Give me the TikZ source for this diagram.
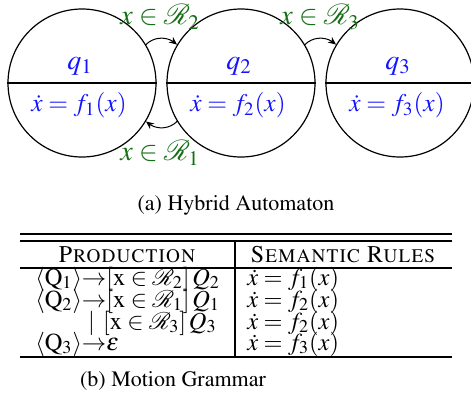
\documentclass[tikz,border=0pt]{standalone}
\usepackage[T1]{fontenc}
\usepackage{mathptmx}
\usepackage{mathrsfs}
\usetikzlibrary{arrows.meta,bending}
\definecolor{lblblue}{RGB}{20,20,255}
\definecolor{lblgreen}{RGB}{20,110,20}
\begin{document}
\begin{tikzpicture}[x=0.5pt,y=-0.5pt,
  state/.style={circle,draw,line width=0.6pt,minimum size=74pt,inner sep=0pt},
  statelbl/.style={text=lblblue,font=\fontsize{14}{16}\selectfont,inner sep=0pt},
  flowlbl/.style={text=lblblue,font=\fontsize{12.7}{15}\selectfont,inner sep=0pt},
  guard/.style={text=lblgreen,font=\fontsize{14}{16}\selectfont,inner sep=0pt},
  trans/.style={-{Stealth[length=4pt,width=3.5pt]},line width=0.5pt},
  rule/.style={line width=0.6pt},
  cell/.style={font=\fontsize{12.2}{14}\selectfont,inner sep=0pt,text height=7.5pt,text depth=2.2pt},
  head/.style={font=\fontsize{12}{14}\selectfont,inner sep=0pt},
  captext/.style={font=\fontsize{11}{13}\selectfont,inner sep=0pt}]
\useasboundingbox (0,0) rectangle (471,403);
% states
\node[state] (c1) at (82,83) {};
\node[state] (c2) at (241,83) {};
\node[state] (c3) at (400,83) {};
\foreach \i in {1,2,3}{
  \draw[line width=0.6pt] (c\i.west) -- (c\i.east);
}
\node[statelbl] (q1) at (80,66) {$q_1$};
\node[statelbl] (q2) at (239,66) {$q_2$};
\node[statelbl] (q3) at (398,66) {$q_3$};
\node[flowlbl] (f1) at (79,105) {$\dot{x}=f_1(x)$};
\node[flowlbl] (f2) at (238,105) {$\dot{x}=f_2(x)$};
\node[flowlbl] (f3) at (397,105) {$\dot{x}=f_3(x)$};
% transitions
\draw[trans] (c1.31) to[bend left=45] (c2.149);
\draw[trans] (c2.31) to[bend left=45] (c3.149);
\draw[trans] (c2.211) to[bend left=45] (c1.329);
\node[guard] (g2) at (160,17) {$x\in\mathscr{R}_2$};
\node[guard] (g3) at (320,17) {$x\in\mathscr{R}_3$};
\node[guard] (g1) at (160,153) {$x\in\mathscr{R}_1$};
\node[captext] (capa) at (236,205) {(a)\ Hybrid Automaton};
% table
\coordinate (tl1) at (20,234); \coordinate (tr1) at (452,234);
\coordinate (tl2) at (20,241); \coordinate (tr2) at (452,241);
\coordinate (hl) at (20,268); \coordinate (hr) at (452,268);
\coordinate (bl) at (20,357); \coordinate (br) at (452,357);
\coordinate (vt) at (235,241); \coordinate (vb) at (235,357);
\draw[rule] (tl1) -- (tr1);
\draw[rule] (tl2) -- (tr2);
\draw[rule] (hl) -- (hr);
\draw[rule] (bl) -- (br);
\draw[rule] (vt) -- (vb);
\node[head] (h1) at (127,255) {\textsc{Production}};
\node[head] (h2) at (343,255) {\textsc{Semantic Rules}};
\node[cell,anchor=west] (p1) at (35,280) {$\langle\mathrm{Q}_1\rangle{\rightarrow}[\mathrm{x}\in\mathscr{R}_2]\,Q_2$};
\node[cell,anchor=west] (p2) at (35,302) {$\langle\mathrm{Q}_2\rangle{\rightarrow}[\mathrm{x}\in\mathscr{R}_1]\,Q_1$};
\node[cell,anchor=east] (p3) at (217,324) {$\mid\,[\mathrm{x}\in\mathscr{R}_3]\,Q_3$};
\node[cell,anchor=west] (p4) at (35,345) {$\langle\mathrm{Q}_3\rangle{\rightarrow}\varepsilon$};
\node[cell,anchor=west] (s1) at (247,280) {$\dot{x}=f_1(x)$};
\node[cell,anchor=west] (s2) at (247,302) {$\dot{x}=f_2(x)$};
\node[cell,anchor=west] (s3) at (247,324) {$\dot{x}=f_2(x)$};
\node[cell,anchor=west] (s4) at (247,345) {$\dot{x}=f_3(x)$};
\node[captext] (capb) at (173,381) {(b)\ Motion Grammar};
\end{tikzpicture}
\end{document}
